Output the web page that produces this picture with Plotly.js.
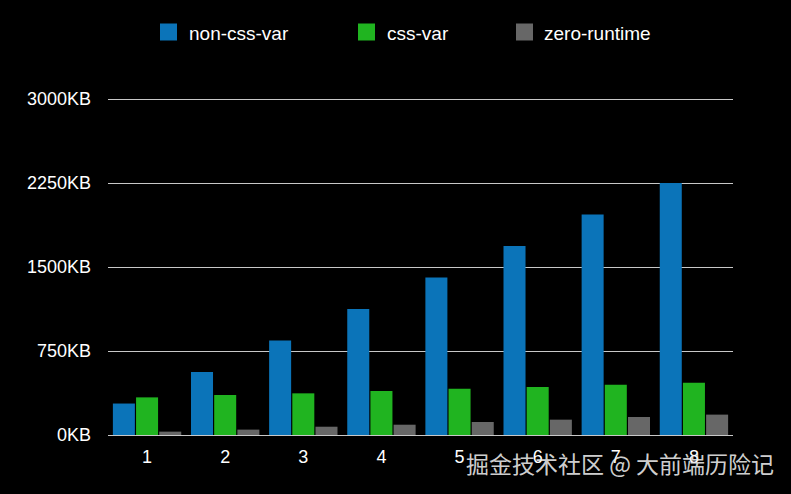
<!DOCTYPE html>
<html>
<head>
<meta charset="utf-8">
<script src="https://cdn.plot.ly/plotly-3.0.1.min.js"></script>
<style>
  html, body { margin: 0; padding: 0; background: #000; }
  #myPlot { width: 791px; height: 494px; }
  /* plotly's own swatches are thin bars; square ones are drawn as shapes */
  #myPlot .legendpoints { display: none !important; }
</style>
</head>
<body>
<div id="myPlot"></div>
<script>
// data
let cats = ["1", "2", "3", "4", "5", "6", "7", "8"];
let nonCssVar = [281, 562, 844, 1125, 1406, 1688, 1969, 2250];
let cssVar = [336, 357, 372, 393, 414, 429, 449, 467];
let zeroRuntime = [30, 48, 74, 92, 116, 137, 161, 182];
let yTicks = [0, 750, 1500, 2250, 3000];

let colors = ["#0b74b9", "#20b420", "#676767"];
let font = "Liberation Sans, Arial, Helvetica, sans-serif";

// plot box in pixels
let L = 108, R = 58, T = 97, B = 59;
let W = 791 - L - R, H = 494 - T - B;
let px = x => (x - L) / W;
let py = y => (494 - B - y) / H;

var trace1 = {
  x: cats,
  y: nonCssVar,
  name: "non-css-var",
  type: "bar",
  marker: { color: colors[0] },
  legend: "legend"
};
var trace2 = {
  x: cats,
  y: cssVar,
  name: "css-var",
  type: "bar",
  marker: { color: colors[1] },
  legend: "legend2"
};
var trace3 = {
  x: cats,
  y: zeroRuntime,
  name: "zero-runtime",
  type: "bar",
  marker: { color: colors[2] },
  legend: "legend3"
};

// one legend per item so each sits where the picture has it
function leg(x) {
  return {
    orientation: "h",
    xref: "container", yref: "container",
    x: x / 791, xanchor: "left",
    y: (494 - 33) / 494, yanchor: "middle",
    bgcolor: "rgba(0,0,0,0)",
    borderwidth: 0,
    font: { family: font, size: 19, color: "#ffffff" }
  };
}

// square swatches next to the legend texts
let swatchX = [160, 358, 516];
let swatches = swatchX.map((x, i) => ({
  type: "rect",
  xref: "paper", yref: "paper",
  x0: px(x), x1: px(x + 17),
  y0: py(40.5), y1: py(23.5),
  fillcolor: colors[i],
  line: { width: 0 }
}));

var layout = {
  width: 791,
  height: 494,
  paper_bgcolor: "#000000",
  plot_bgcolor: "#000000",
  margin: { l: L, r: R, t: T, b: B },
  barmode: "group",
  bargap: 0.11,
  bargroupgap: 0.05,
  font: { family: font, color: "#ffffff", size: 18 },
  showlegend: true,
  legend: leg(149),
  legend2: leg(347),
  legend3: leg(504),
  shapes: swatches,
  xaxis: {
    type: "category",
    showgrid: false,
    showline: false,
    zeroline: false,
    ticks: "",
    ticklabelstandoff: 9,
    tickfont: { family: font, size: 18, color: "#ffffff" }
  },
  yaxis: {
    range: [0, 3018],
    tickvals: yTicks,
    ticktext: yTicks.map(v => v + "KB"),
    showgrid: true,
    gridcolor: "#c8c8c8",
    gridwidth: 1,
    zeroline: true,
    zerolinecolor: "#c8c8c8",
    zerolinewidth: 1,
    showline: false,
    ticks: "",
    ticklabelstandoff: 16,
    tickfont: { family: font, size: 18, color: "#ffffff" }
  },
  annotations: [{
    text: "掘金技术社区 @ 大前端历险记",
    xref: "paper", yref: "paper",
    x: px(776), xanchor: "right",
    y: py(463), yanchor: "middle",
    showarrow: false,
    font: { family: "Noto Sans CJK SC, sans-serif", size: 23, color: "rgba(235,235,235,0.9)" }
  }]
};

Plotly.newPlot("myPlot", [trace1, trace2, trace3], layout, { displayModeBar: false });
</script>
</body>
</html>
